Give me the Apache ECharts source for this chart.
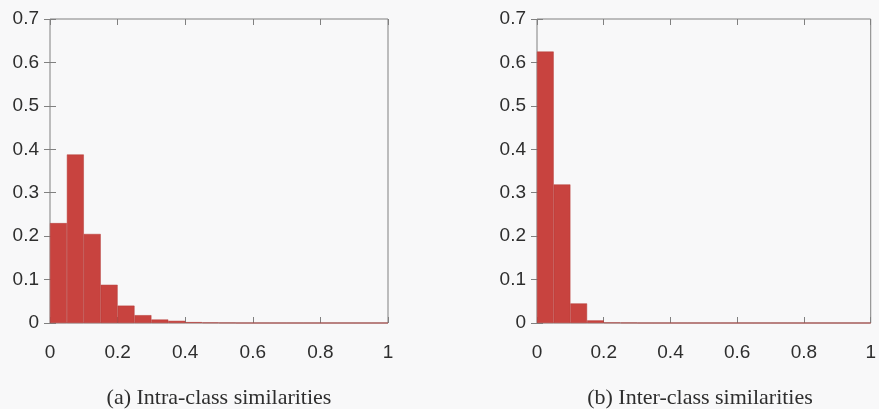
<!DOCTYPE html>
<html><head><meta charset="utf-8">
<script src="https://cdn.jsdelivr.net/npm/echarts@6/dist/echarts.min.js"></script>
<style>html,body{margin:0;padding:0;background:#f8f8f9}#c{width:879px;height:409px}</style>
</head><body><div id="c"></div>
<script>
// Bin categories (bin starts, width 0.05)
const bins = ['0','0.05','0.1','0.15','0.2','0.25','0.3','0.35','0.4','0.45','0.5','0.55','0.6','0.65','0.7','0.75','0.8','0.85','0.9','0.95'];
// Intra-class similarity histogram
const intraValues = [0.230,0.388,0.205,0.088,0.040,0.018,0.008,0.005,0.002,0.001,0.0005,0,0,0,0,0,0,0,0,0];
// Inter-class similarity histogram
const interValues = [0.625,0.319,0.045,0.006,0.001,0.0005,0,0,0,0,0,0,0,0,0,0,0,0,0,0];
const captions = ['(a) Intra-class similarities','(b) Inter-class similarities'];
const yTicks = {min:0,max:0.7,interval:0.1};
const xTicks = {min:0,max:1,interval:0.2};

const frameColor = '#808080';
const textColor = '#2e2e2e';
const barColor = '#c8433f';
const grids = [{left:50,width:338,top:19,height:304},{left:537,width:337,top:19,height:304}];
const captionCenters = [214,695];
const opt = {backgroundColor:'#f8f8f9',animation:false,grid:[],xAxis:[],yAxis:[],series:[],title:[]};
[intraValues, interValues].forEach((vals,i)=>{
  opt.grid.push(Object.assign({show:true,borderColor:frameColor,borderWidth:1,backgroundColor:'transparent'},grids[i]));
  opt.xAxis.push({type:'category',gridIndex:i,data:bins,boundaryGap:true,show:false});
  opt.xAxis.push({type:'value',gridIndex:i,position:'bottom',min:xTicks.min,max:xTicks.max,interval:xTicks.interval,
    axisLine:{show:false},splitLine:{show:false},
    axisTick:{show:true,inside:true,length:6,lineStyle:{color:frameColor}},
    axisLabel:{show:true,margin:20,color:textColor,fontSize:19,fontFamily:'Liberation Sans',
      formatter:v=>String(+v.toFixed(1))}});
  opt.xAxis.push({type:'value',gridIndex:i,position:'top',min:xTicks.min,max:xTicks.max,interval:xTicks.interval,
    axisLine:{show:false},splitLine:{show:false},axisLabel:{show:false},
    axisTick:{show:true,inside:true,length:6,lineStyle:{color:frameColor}}});
  opt.yAxis.push({type:'value',gridIndex:i,position:'left',min:yTicks.min,max:yTicks.max,interval:yTicks.interval,
    axisLine:{show:false},splitLine:{show:false},
    axisTick:{show:true,inside:true,length:6,lineStyle:{color:frameColor}},
    axisLabel:{show:true,margin:11,color:textColor,fontSize:19,fontFamily:'Liberation Sans',
      formatter:v=>String(+v.toFixed(1))}});
  opt.yAxis.push({type:'value',gridIndex:i,position:'right',min:yTicks.min,max:yTicks.max,interval:yTicks.interval,
    axisLine:{show:false},splitLine:{show:false},axisLabel:{show:false},
    axisTick:{show:true,inside:true,length:6,lineStyle:{color:frameColor}}});
  opt.series.push({type:'bar',xAxisIndex:i*3,yAxisIndex:i*2,data:vals,barCategoryGap:'0%',
    itemStyle:{color:barColor,borderColor:'#b53a36',borderWidth:0.5},z:1});
  opt.title.push({text:captions[i],left:captionCenters[i],top:382,textAlign:'center',
    textStyle:{fontFamily:'Liberation Serif',fontWeight:'normal',fontSize:22,color:textColor}});
});
const chart = echarts.init(document.getElementById('c'),null,{renderer:'canvas'});
chart.setOption(opt);
</script></body></html>
